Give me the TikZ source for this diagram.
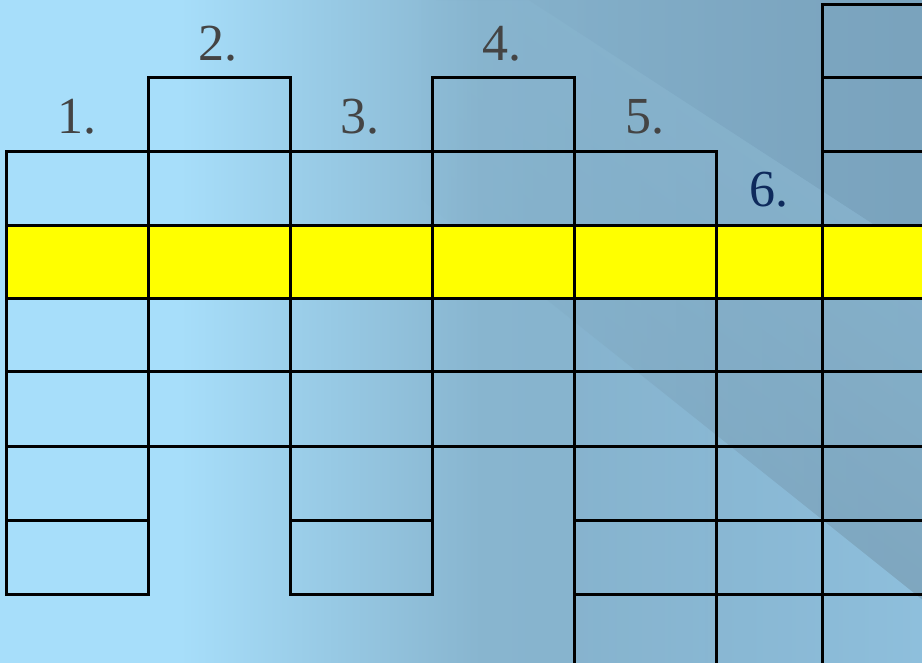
\documentclass[tikz,border=0pt]{standalone}
\usepackage{fontspec}
\setmainfont{Liberation Serif}
\usetikzlibrary{fadings}
\begin{document}
\begin{tikzpicture}[x=1pt,y=-1pt,
  cell/.style={draw=black,line width=3pt},
  lab/.style={font=\fontsize{52}{52}\selectfont,text=labgray,anchor=base,inner sep=0pt}]
\definecolor{labgray}{HTML}{444444}
\definecolor{labnavy}{HTML}{0E2A5C}
\definecolor{bgA}{HTML}{A7DEFA}
\definecolor{bgM}{HTML}{88B5CF}
\definecolor{bgR}{HTML}{82AECA}
\definecolor{bgD}{HTML}{7AA3BD}
\definecolor{bgL}{HTML}{8AB7D1}
\definecolor{bgE}{HTML}{7AA0B8}
\definecolor{bgS}{HTML}{8FC0DD}
\definecolor{yel}{RGB}{255,255,0}
\useasboundingbox (0,0) rectangle (922,663);
\begin{scope}
\clip (0,0) rectangle (922,663);
% background
\fill[bgA] (-5,-5) rectangle (181,670);
\shade[left color=bgA,right color=bgM] (180,-5) rectangle (481,670);
\shade[left color=bgM,right color=bgR] (480,-5) rectangle (930,670);
\fill[bgD,path fading=west] (430,-10) -- (930,-10) -- (930,261) -- (529,0) -- (430,0) -- cycle;
\shade[top color=bgL,bottom color=bgE,shading angle=-35,path fading=west] (420,-71) -- (930,261) -- (930,606) -- (420,198) -- cycle;
\fill[bgS,path fading=west] (560,310) -- (930,606) -- (930,670) -- (560,670) -- cycle;
% yellow band
\fill[yel] (6,226) rectangle (930,299);
% column 1
\foreach \a/\b in {152/226,226/299,299/372,372/446,446/520,520/594} \draw[cell] (6,\a) rectangle (148,\b);
% column 2
\foreach \a/\b in {78/152,152/226,226/299,299/372,372/446} \draw[cell] (148,\a) rectangle (290,\b);
% column 3
\foreach \a/\b in {152/226,226/299,299/372,372/446,446/520,520/594} \draw[cell] (290,\a) rectangle (432,\b);
% column 4
\foreach \a/\b in {78/152,152/226,226/299,299/372,372/446} \draw[cell] (432,\a) rectangle (574,\b);
% column 5
\foreach \a/\b in {152/226,226/299,299/372,372/446,446/520,520/594,594/680} \draw[cell] (574,\a) rectangle (716,\b);
% column 6
\foreach \a/\b in {226/299,299/372,372/446,446/520,520/594,594/680} \draw[cell] (716,\a) rectangle (822,\b);
% column 7
\foreach \a/\b in {5/78,78/152,152/226,226/299,299/372,372/446,446/520,520/594,594/680} \draw[cell] (822,\a) rectangle (940,\b);
\end{scope}
\node[lab] (l1) at (77,134) {1.};
\node[lab] (l2) at (218,61) {2.};
\node[lab] (l3) at (360,134) {3.};
\node[lab] (l4) at (502,61) {4.};
\node[lab] (l5) at (645,134) {5.};
\node[lab,text=labnavy] (l6) at (769,207) {6.};
\end{tikzpicture}
\end{document}
